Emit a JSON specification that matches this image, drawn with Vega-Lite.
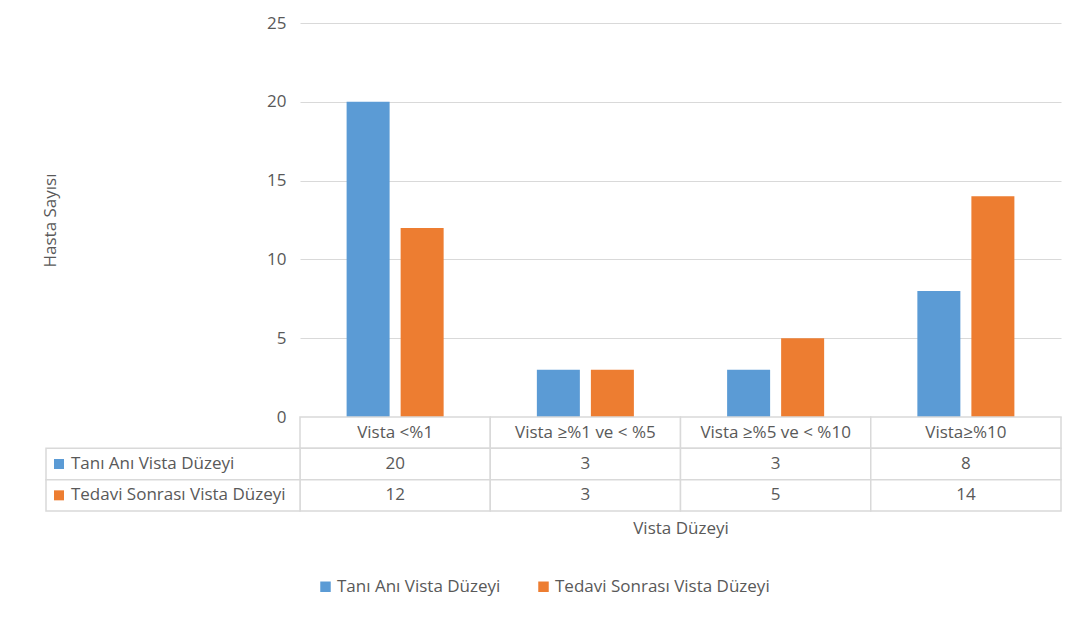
{
  "$schema": "https://vega.github.io/schema/vega-lite/v6.json",
  "background": "white",
  "padding": {"left": 41, "top": 14, "right": 20, "bottom": 10},
  "bounds": "flush",
  "spacing": 0,
  "data": {
    "values": [
      {"cat": "Vista <%1", "series": "Tanı Anı Vista Düzeyi", "value": 20},
      {"cat": "Vista <%1", "series": "Tedavi Sonrası Vista Düzeyi", "value": 12},
      {"cat": "Vista ≥%1 ve < %5", "series": "Tanı Anı Vista Düzeyi", "value": 3},
      {"cat": "Vista ≥%1 ve < %5", "series": "Tedavi Sonrası Vista Düzeyi", "value": 3},
      {"cat": "Vista ≥%5 ve < %10", "series": "Tanı Anı Vista Düzeyi", "value": 3},
      {"cat": "Vista ≥%5 ve < %10", "series": "Tedavi Sonrası Vista Düzeyi", "value": 5},
      {"cat": "Vista≥%10", "series": "Tanı Anı Vista Düzeyi", "value": 8},
      {"cat": "Vista≥%10", "series": "Tedavi Sonrası Vista Düzeyi", "value": 14}
    ]
  },
  "config": {
    "view": {"stroke": null},
    "font": "Open Sans",
    "axis": {
      "labelFont": "Open Sans",
      "labelFontSize": 17,
      "labelColor": "#595959",
      "titleFont": "Open Sans",
      "titleFontSize": 17,
      "titleFontWeight": "normal",
      "titleColor": "#595959"
    },
    "text": {"font": "Open Sans", "fontSize": 17, "fill": "#595959"}
  },
  "vconcat": [
    {
      "width": 761,
      "height": 394,
      "mark": {"type": "bar"},
      "encoding": {
        "x": {
          "field": "cat", "type": "nominal",
          "sort": ["Vista <%1", "Vista ≥%1 ve < %5", "Vista ≥%5 ve < %10", "Vista≥%10"],
          "scale": {"paddingInner": 0.49, "paddingOuter": 0.245},
          "axis": null
        },
        "xOffset": {
          "field": "series", "type": "nominal",
          "sort": ["Tanı Anı Vista Düzeyi", "Tedavi Sonrası Vista Düzeyi"],
          "scale": {"paddingInner": 0.204, "paddingOuter": 0}
        },
        "y": {
          "field": "value", "type": "quantitative",
          "scale": {"domain": [0, 25]},
          "axis": {
            "values": [0, 5, 10, 15, 20, 25],
            "title": "Hasta Sayısı",
            "grid": true,
            "gridColor": "#d9d9d9",
            "gridWidth": 1,
            "domain": false,
            "ticks": false,
            "labelPadding": 14,
            "titleX": -241,
            "titleY": 197,
            "titleAngle": -90,
            "titleAlign": "center",
            "titleBaseline": "bottom"
          }
        },
        "color": {
          "field": "series", "type": "nominal",
          "scale": {"domain": ["Tanı Anı Vista Düzeyi", "Tedavi Sonrası Vista Düzeyi"], "range": ["#5b9bd5", "#ed7d31"]},
          "legend": {
            "orient": "none",
            "legendX": 17,
            "legendY": 555,
            "direction": "horizontal",
            "title": null,
            "symbolType": "square",
            "symbolSize": 110,
            "symbolStrokeWidth": 0,
            "labelFont": "Open Sans",
            "labelFontSize": 17,
            "labelColor": "#595959",
            "labelOffset": 3,
            "labelLimit": 0,
            "columnPadding": 34
          }
        }
      }
    },
    {
      "width": 761,
      "height": 94,
      "resolve": {"scale": {"x": "independent"}},
      "layer": [
        {
          "encoding": {
            "x": {
              "field": "cat", "type": "nominal",
              "sort": ["Vista <%1", "Vista ≥%1 ve < %5", "Vista ≥%5 ve < %10", "Vista≥%10"],
              "scale": {"type": "band", "paddingInner": 0, "paddingOuter": 0},
              "axis": {"title": "Vista Düzeyi", "labels": false, "ticks": false, "domain": false, "grid": false, "titlePadding": 9}
            }
          },
          "layer": [
            {
              "transform": [{"filter": "datum.series === 'Tanı Anı Vista Düzeyi'"}],
              "mark": {"type": "rect", "fill": "white", "stroke": "#d9d9d9", "strokeWidth": 1.5},
              "encoding": {
                "y": {"datum": "header", "type": "nominal", "scale": {"type": "band", "domain": ["header", "Tanı Anı Vista Düzeyi", "Tedavi Sonrası Vista Düzeyi"], "paddingInner": 0, "paddingOuter": 0}, "axis": null}
              }
            },
            {
              "transform": [{"filter": "datum.series === 'Tanı Anı Vista Düzeyi'"}],
              "mark": {"type": "text", "baseline": "middle", "align": "center"},
              "encoding": {
                "y": {"datum": "header", "type": "nominal"},
                "text": {"field": "cat"}
              }
            },
            {
              "mark": {"type": "rect", "fill": "white", "stroke": "#d9d9d9", "strokeWidth": 1.5},
              "encoding": {
                "y": {"field": "series", "type": "nominal"}
              }
            },
            {
              "mark": {"type": "text", "baseline": "middle", "align": "center"},
              "encoding": {
                "y": {"field": "series", "type": "nominal"},
                "text": {"field": "value", "type": "quantitative"}
              }
            }
          ]
        },
        {
          "transform": [{"filter": "datum.cat === 'Vista <%1'"}],
          "layer": [
            {
              "mark": {"type": "rect", "fill": "white", "stroke": "#d9d9d9", "strokeWidth": 1.5},
              "encoding": {
                "x": {"datum": "label", "type": "nominal", "scale": {"type": "band", "domain": ["label"], "range": [-254, 0], "paddingInner": 0, "paddingOuter": 0}, "axis": null},
                "y": {"field": "series", "type": "nominal"}
              }
            },
            {
              "mark": {"type": "square", "size": 100, "opacity": 1, "filled": true},
              "encoding": {
                "x": {"datum": "label", "type": "nominal", "bandPosition": 0.0512, "scale": {"type": "band", "domain": ["label"], "range": [-254, 0], "paddingInner": 0, "paddingOuter": 0}, "axis": null},
                "y": {"field": "series", "type": "nominal"},
                "color": {"field": "series", "type": "nominal"}
              }
            },
            {
              "mark": {"type": "text", "align": "left", "baseline": "middle"},
              "encoding": {
                "x": {"datum": "label", "type": "nominal", "bandPosition": 0.098, "scale": {"type": "band", "domain": ["label"], "range": [-254, 0], "paddingInner": 0, "paddingOuter": 0}, "axis": null},
                "y": {"field": "series", "type": "nominal"},
                "text": {"field": "series"}
              }
            }
          ]
        }
      ]
    }
  ]
}
